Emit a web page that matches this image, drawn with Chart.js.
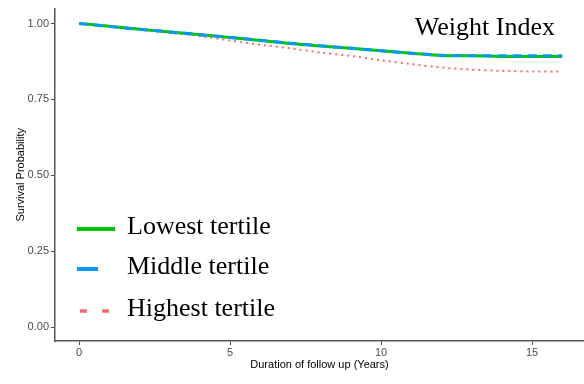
<!DOCTYPE html>
<html>
<head>
<meta charset="utf-8">
<script src="https://cdn.jsdelivr.net/npm/chart.js@4.4.1/dist/chart.umd.min.js"></script>
<style>
  html, body { margin: 0; padding: 0; background: #fff; }
  #wrap { width: 584px; height: 384px; position: relative; }
</style>
</head>
<body>
<div id="wrap"><canvas id="myChart"></canvas></div>
<script>
var years = [0, 1, 2, 3, 4, 5, 6, 7, 8, 9, 10, 11, 12, 13, 14, 15, 16];
var lowest  = [1.000, 0.991, 0.981, 0.972, 0.963, 0.954, 0.944, 0.934, 0.926, 0.918, 0.910, 0.902, 0.894, 0.894, 0.891, 0.891, 0.891];
var middle  = [1.000, 0.990, 0.981, 0.972, 0.963, 0.954, 0.945, 0.935, 0.927, 0.918, 0.910, 0.902, 0.895, 0.894, 0.894, 0.894, 0.894];
var highest = [1.000, 0.990, 0.979, 0.969, 0.958, 0.944, 0.930, 0.918, 0.904, 0.893, 0.879, 0.866, 0.855, 0.848, 0.844, 0.842, 0.842];
var xTicks = [0, 5, 10, 15];
var yTicks = [0, 0.25, 0.5, 0.75, 1];
var seriesNames = ["Lowest tertile", "Middle tertile", "Highest tertile"];
var chartTitle = "Weight Index";

function pts(arr) {
    return years.map(function (x, i) { return { x: x, y: arr[i] }; });
}

// legend + title drawn inside the plot, like the ggplot output
var insideText = {
    id: "insideText",
    afterDraw: function (chart) {
        var ctx = chart.ctx;
        ctx.save();
        ctx.fillStyle = "#000";
        ctx.font = "26px 'Liberation Serif', 'Times New Roman', serif";
        ctx.textBaseline = "middle";
        ctx.textAlign = "right";
        ctx.fillText(chartTitle, 555, 28);

        ctx.textAlign = "left";
        var rows = [229, 269, 311];
        var samples = [
            { x1: 77, x2: 115, dash: [], w: 4 },
            { x1: 77, x2: 98, dash: [], w: 4 },
            { x1: 80, x2: 110, dash: [7, 15], w: 3.5 }
        ];
        chart.data.datasets.forEach(function (ds, i) {
            var s = samples[i];
            ctx.beginPath();
            ctx.setLineDash(s.dash);
            ctx.lineWidth = s.w;
            ctx.strokeStyle = ds.borderColor;
            ctx.moveTo(s.x1, rows[i]);
            ctx.lineTo(s.x2, rows[i]);
            ctx.stroke();
            ctx.setLineDash([]);
            ctx.fillText(ds.label, 127, rows[i] - 2);
        });
        ctx.restore();
    }
};

var tickFont = { family: "'Liberation Sans', Arial, sans-serif", size: 11 };

new Chart("myChart", {
    type: "line",
    data: {
        datasets: [
            { label: seriesNames[0], data: pts(lowest), borderColor: "#00c800", borderWidth: 3, order: 1 },
            { label: seriesNames[1], data: pts(middle), borderColor: "#0a96ff", borderWidth: 3, borderDash: [9, 6], order: 0 },
            { label: seriesNames[2], data: pts(highest), borderColor: "#ff6b6b", borderWidth: 2, borderDash: [2, 4], order: 2 }
        ]
    },
    options: {
        responsive: true,
        maintainAspectRatio: false,
        animation: false,
        layout: { padding: { top: 7, right: 0, left: 0, bottom: 0 } },
        elements: { point: { radius: 0 }, line: { tension: 0.2 } },
        plugins: {
            legend: { display: false },
            tooltip: { enabled: false }
        },
        scales: {
            x: {
                type: "linear",
                min: -0.8,
                max: 16.72,
                afterBuildTicks: function (s) { s.ticks = xTicks.map(function (v) { return { value: v }; }); },
                afterFit: function (s) { s.height = 43; },
                ticks: { font: tickFont, color: "#4d4d4d", padding: 1, maxRotation: 0 },
                grid: { drawOnChartArea: false, tickLength: 4, color: "#4d4d4d" },
                border: { color: "#555", width: 1.5 },
                title: {
                    display: true,
                    text: "Duration of follow up (Years)",
                    font: tickFont,
                    color: "#000",
                    padding: { top: 0, bottom: 12 }
                }
            },
            y: {
                min: -0.046,
                max: 1.049,
                afterBuildTicks: function (s) { s.ticks = yTicks.map(function (v) { return { value: v }; }); },
                afterFit: function (s) { s.width = 55; },
                ticks: {
                    font: tickFont,
                    color: "#4d4d4d",
                    padding: 2,
                    callback: function (v) { return v.toFixed(2); }
                },
                grid: { drawOnChartArea: false, tickLength: 4, color: "#4d4d4d" },
                border: { color: "#555", width: 1.5 },
                title: {
                    display: true,
                    text: "Survival Probability",
                    font: tickFont,
                    color: "#000",
                    padding: { top: 14, bottom: 0 }
                }
            }
        }
    },
    plugins: [insideText]
});
</script>
</body>
</html>
